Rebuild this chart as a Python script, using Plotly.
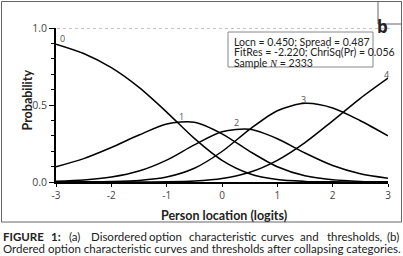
import plotly.graph_objects as go

# ---- data ----
x_vals = [-3, -2.5, -2, -1.5, -1, -0.5, 0, 0.5, 1, 1.5, 2, 2.5, 3]
cat0 = [0.895, 0.834, 0.742, 0.614, 0.454, 0.283, 0.141, 0.054, 0.016, 0.004, 0.001, 0.0, 0.0]
cat1 = [0.099, 0.152, 0.224, 0.305, 0.377, 0.388, 0.313, 0.199, 0.099, 0.040, 0.014, 0.004, 0.001]
cat2 = [0.005, 0.013, 0.032, 0.071, 0.142, 0.241, 0.326, 0.342, 0.281, 0.188, 0.107, 0.054, 0.025]
cat3 = [0.0, 0.001, 0.003, 0.010, 0.032, 0.089, 0.198, 0.342, 0.463, 0.511, 0.481, 0.398, 0.300]
cat4 = [0.0, 0.0, 0.0, 0.0, 0.001, 0.006, 0.022, 0.063, 0.141, 0.256, 0.397, 0.543, 0.674]
series = [cat0, cat1, cat2, cat3, cat4]
curve_labels = ["0", "1", "2", "3", "4"]
label_pos = [(-2.88, 0.935), (-0.73, 0.425), (0.27, 0.385), (1.48, 0.537), (2.97, 0.695)]
x_ticks = [-3, -2, -1, 0, 1, 2, 3]
y_ticks = [0.0, 0.5, 1.0]
info_lines = ["Locn = 0.450; Spread = 0.487",
              "FitRes = -2.220; ChriSq(Pr) = 0.056",
              "Sample <i><span style=\"font-family:'Liberation Serif'\">N</span></i> = 2333"]
caption_line1 = ["<b>FIGURE</b>", "<b>1:</b>", "(a)", "Disordered", "option",
                 "characteristic", "curves", "and", "thresholds,", "(b)"]
caption_line2 = "Ordered option characteristic curves and thresholds after collapsing categories."

# ---- geometry in pixels ----
W, H = 403, 256
L, R, T, B = 56, 388, 28, 182


def px(x):
    return (x - L) / (R - L)


def py(y):
    return (B - y) / (B - T)


fig = go.Figure()
for s in series:
    fig.add_trace(go.Scatter(x=x_vals, y=s, mode="lines",
                             line=dict(color="black", width=1.5, shape="spline", smoothing=0.8),
                             showlegend=False, hoverinfo="skip"))

fig.update_layout(
    width=W, height=H,
    margin=dict(l=L, r=W - R, t=T, b=H - B),
    paper_bgcolor="white", plot_bgcolor="white",
    font=dict(family="Open Sans", color="#333333"),
    xaxis=dict(range=[-3, 3], tickvals=x_ticks, ticktext=[str(v) for v in x_ticks],
               showgrid=False, zeroline=False, showline=True, linecolor="black", linewidth=2,
               ticks="outside", ticklen=3, tickcolor="black", tickwidth=1,
               tickfont=dict(size=10, color="#444444", family="Open Sans")),
    yaxis=dict(range=[0, 1], tickvals=y_ticks, ticktext=["0.0", "0.5", "1.0"],
               showgrid=False, zeroline=False, showline=True, linecolor="black", linewidth=2,
               ticks="outside", ticklen=5, tickcolor="black", tickwidth=1,
               minor=dict(dtick=0.1, ticks="outside", ticklen=3, tickcolor="black"),
               tickfont=dict(size=10.5, color="#444444", family="Open Sans")),
)

shapes = []
# outer figure border
shapes.append(dict(type="rect", xref="paper", yref="paper",
                   x0=px(1.5), x1=px(401.5), y0=py(1.5), y1=py(222),
                   line=dict(color="#666666", width=1)))
# panel letter box
shapes.append(dict(type="rect", xref="paper", yref="paper",
                   x0=px(378), x1=px(401.5), y0=py(1.5), y1=py(24),
                   line=dict(color="#666666", width=1)))
# dotted line at 1.0
shapes.append(dict(type="line", xref="paper", yref="y",
                   x0=px(57), x1=px(390), y0=1.0, y1=1.0,
                   line=dict(color="#888888", width=1, dash="dot")))
# info box
shapes.append(dict(type="rect", xref="paper", yref="paper",
                   x0=px(228), x1=px(373), y0=py(32), y1=py(67),
                   line=dict(color="#888888", width=1), fillcolor="white", layer="above"))
fig.update_layout(shapes=shapes)

ann = []
for lab, (lx, ly) in zip(curve_labels, label_pos):
    ann.append(dict(x=lx, y=ly, xref="x", yref="y", text=lab, showarrow=False,
                    font=dict(size=9, color="#555555", family="Open Sans")))
ann.append(dict(x=px(390), y=py(13), xref="paper", yref="paper", text="<b>b</b>",
                showarrow=False, font=dict(size=17, color="#222222", family="Open Sans")))
for i, line in enumerate(info_lines):
    ann.append(dict(x=px(232), y=py(41.5 + 10.5 * i), xref="paper", yref="paper", text=line,
                    showarrow=False, xanchor="left", yanchor="middle",
                    font=dict(size=10.5, color="#222222", family="Lato")))
ann.append(dict(x=px(224), y=py(207), xref="paper", yref="paper", yanchor="top",
                text="<b>Person location (logits)</b>", showarrow=False, borderpad=0,
                font=dict(size=12.5, color="#222222", family="Lato")))
ann.append(dict(x=px(17), y=py(100), xref="paper", yref="paper",
                text="<b>Probability</b>", showarrow=False, textangle=-90,
                font=dict(size=12.5, color="#222222", family="Lato")))
# caption line 1 (justified, word by word)
word_x = [1, 48.6, 67.2, 88.8, 147.4, 187, 258.6, 298.2, 324.8, 401]
for w, wx in zip(caption_line1, word_x):
    ann.append(dict(x=px(wx), y=py(236), xref="paper", yref="paper", text=w,
                    showarrow=False, xanchor="right" if w == "(b)" else "left",
                    yanchor="middle", font=dict(size=11.5, color="#222222", family="Lato")))
ann.append(dict(x=px(1), y=py(249), xref="paper", yref="paper", text=caption_line2,
                showarrow=False, xanchor="left", yanchor="middle",
                font=dict(size=11.5, color="#222222", family="Lato")))
fig.update_layout(annotations=ann)

fig.write_html("out.html", config={"displayModeBar": False},
               post_script="document.body.style.margin='0';")
